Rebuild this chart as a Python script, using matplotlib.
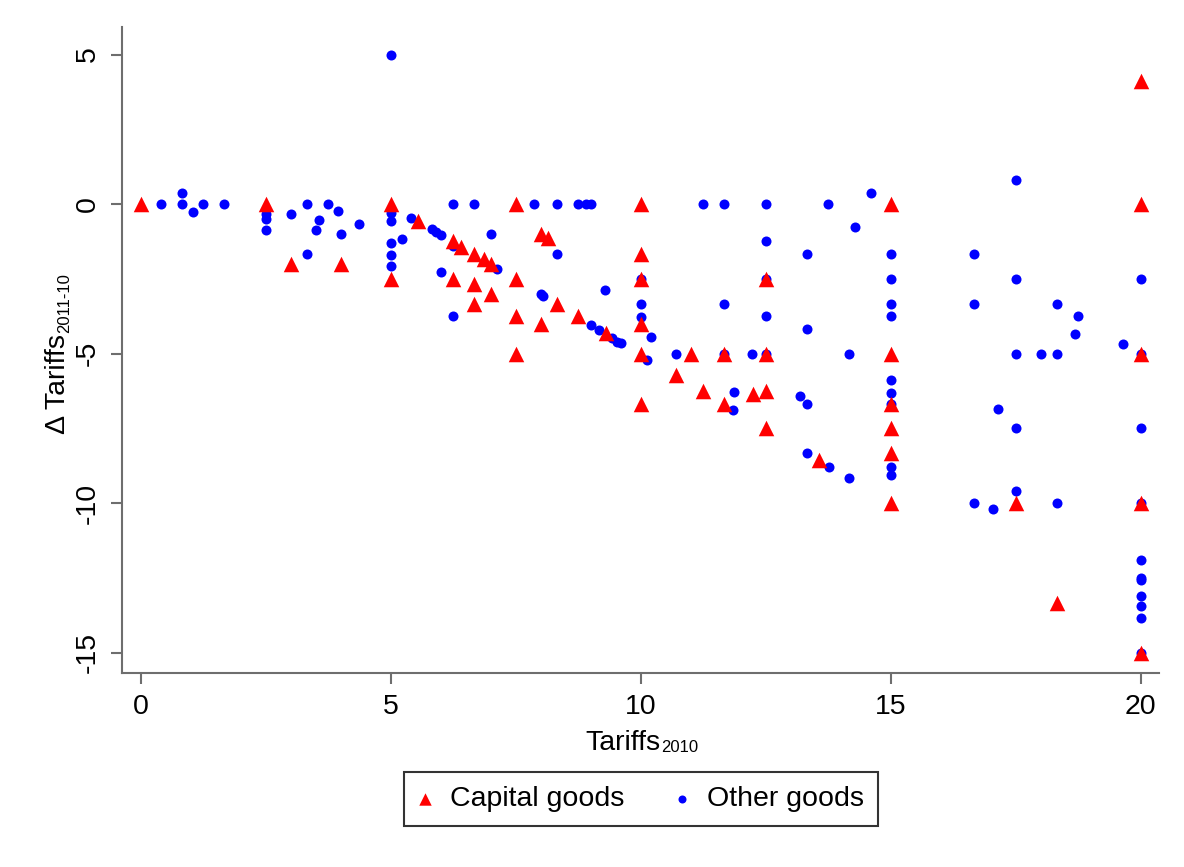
import matplotlib
matplotlib.use("Agg")
import matplotlib.pyplot as plt

plt.rcParams['font.family'] = ['Liberation Sans', 'DejaVu Sans']
plt.rcParams['axes.unicode_minus'] = False

# capital goods (red triangles): tariff 2010, change 2011-10
cap_x = [0, 2.5, 3, 4, 5, 5, 5.55, 6.25, 6.41, 6.67, 6.87, 7, 6.25, 6.67, 7,
         6.67, 7.5, 7.5, 7.5, 7.5, 8, 8.14, 8, 8.33, 8.75, 9.3, 10, 10, 10,
         10, 10, 10, 10.7, 11, 11.25, 11.67, 11.67, 12.25, 12.5, 12.5, 12.5,
         12.5, 13.57, 15, 15, 15, 15, 15, 15, 17.5, 18.33, 20, 20, 20, 20, 20]
cap_y = [0, 0, -2, -2, 0, -2.5, -0.56, -1.25, -1.43, -1.67, -1.85, -2, -2.5,
         -2.67, -3, -3.33, 0, -2.5, -3.75, -5, -1, -1.12, -4, -3.33, -3.75,
         -4.3, 0, -1.67, -2.5, -4, -5, -6.67, -5.72, -5, -6.25, -5, -6.67,
         -6.35, -2.5, -5, -6.25, -7.5, -8.57, 0, -5, -6.67, -7.5, -8.33, -10,
         -10, -13.33, 4.1, 0, -5, -10, -15]

# other goods (blue dots)
oth_x = [0.4, 0.83, 0.83, 1.05, 1.24, 1.66, 2.5, 2.5, 2.5, 3, 3.33, 3.33,
         3.56, 3.5, 3.75, 3.95, 4, 4.36, 5, 5, 5, 5, 5, 5, 5.22, 5.4, 5.82,
         5.9, 6, 6, 6.25, 6.67, 6.25, 6.25, 7, 7.13, 7.86, 8.33, 8.75, 8.9, 9,
         8.33, 8, 8.05, 9.28, 9, 9.17, 9.43, 9.53, 9.6, 10, 10, 10, 10.2,
         10.13, 10.7, 11.25, 11.67, 11.67, 11.67, 11.87, 11.84, 12.22, 12.5,
         12.5, 12.5, 12.5, 12.5, 13.19, 13.33, 13.33, 13.33, 13.33, 13.77,
         13.75, 14.17, 14.17, 14.28, 14.6, 15, 15, 15, 15, 15, 15, 15, 15, 15,
         16.67, 16.67, 16.67, 17.05, 17.14, 17.5, 17.5, 17.5, 17.5, 17.5, 18,
         18.33, 18.33, 18.33, 18.68, 18.75, 19.64, 20, 20, 20, 20, 20, 20,
         20, 20, 20, 20, 20]
oth_y = [0, 0.38, 0, -0.26, 0, 0, -0.34, -0.5, -0.87, -0.34, 0, -1.67,
         -0.53, -0.87, 0, -0.24, -1, -0.67, 5, -0.31, -0.56, -1.29, -1.71,
         -2.06, -1.18, -0.45, -0.85, -0.93, -1.04, -2.28, 0, 0, -1.4, -3.75,
         -1, -2.17, 0, 0, 0, 0, 0, -1.67, -3, -3.08, -2.88, -4.05, -4.21,
         -4.49, -4.6, -4.65, -2.5, -3.33, -3.77, -4.43, -5.2, -5, 0, 0, -3.33,
         -5, -6.3, -6.9, -5, 0, -1.25, -2.5, -3.75, -5, -6.42, -6.67, -1.67,
         -4.17, -8.33, -8.8, 0, -5, -9.17, -0.76, 0.38, -1.67, -2.5, -3.33,
         -3.75, -5.89, -6.31, -6.67, -8.78, -9.06, -1.67, -3.33, -10, -10.2,
         -6.84, 0.8, -2.5, -5, -7.5, -9.6, -5, -3.33, -5, -10, -4.35, -3.75,
         -4.68, -2.5, -5, -7.5, -10, -11.9, -12.5, -12.57, -13.09, -13.43,
         -13.83, -15]

x_ticks = [0, 5, 10, 15, 20]
y_ticks = [5, 0, -5, -10, -15]

W, H = 1184, 867
fig = plt.figure(figsize=(W / 100, H / 100), dpi=100)
ax = fig.add_axes([122 / W, 1 - 673 / H, (1159 - 122) / W, (673 - 27) / H])

oth = ax.scatter(oth_x, oth_y, s=52, marker='o', color='#0000ff', linewidths=0, zorder=2)
cap = ax.scatter(cap_x, cap_y, s=125, marker='^', color='#ff0000', linewidths=0, zorder=3)

ax.set_xlim(-0.38, 20.37)
ax.set_ylim(-15.68, 5.92)
ax.set_xticks(x_ticks)
ax.set_yticks(y_ticks)

gray = '#6e6e6e'
for side in ['top', 'right']:
    ax.spines[side].set_visible(False)
for side in ['left', 'bottom']:
    ax.spines[side].set_color(gray)
    ax.spines[side].set_linewidth(1.5)
ax.tick_params(colors=gray, labelcolor='black', length=8, width=1.5,
               labelsize=20.5, pad=7)
ax.tick_params(axis='y', labelrotation=90)
for lbl in ax.get_yticklabels():
    lbl.set_va('center')

# axis titles with small subscripts, placed by hand
main_size, sub_size = 20.5, 12
r = fig.canvas.get_renderer()

xt = fig.text(0, 1 - 750 / H, 'Tariffs', size=main_size, ha='left', va='baseline')
xs = fig.text(0, 1 - 752 / H, '2010', size=sub_size, ha='left', va='baseline')
w1 = xt.get_window_extent(r).width
w2 = xs.get_window_extent(r).width
x0 = 642 - (w1 + 1 + w2) / 2
xt.set_x(x0 / W)
xs.set_x((x0 + w1 + 1) / W)

yt = fig.text(65 / W, 0, 'Δ Tariffs', size=main_size, rotation=90,
              rotation_mode='anchor', ha='left', va='baseline')
ys = fig.text(69 / W, 0, '2011-10', size=sub_size, rotation=90,
              rotation_mode='anchor', ha='left', va='baseline')
h1 = yt.get_window_extent(r).height
h2 = ys.get_window_extent(r).height
y0 = 354 + (h1 + 1 + h2) / 2
yt.set_y(1 - y0 / H)
ys.set_y(1 - (y0 - h1 - 1) / H)

leg = ax.legend([cap, oth], ['Capital goods', 'Other goods'], ncol=2,
                loc='upper center', bbox_to_anchor=(641 / W, 1 - 772 / H),
                bbox_transform=fig.transFigure, fontsize=main_size, frameon=True,
                fancybox=False, edgecolor='black', borderpad=0.5,
                handlelength=0.5, handletextpad=0.6, columnspacing=1.8,
                markerscale=0.8, borderaxespad=0)
leg.get_frame().set_linewidth(1.5)

fig.savefig('out.png', dpi=100)
